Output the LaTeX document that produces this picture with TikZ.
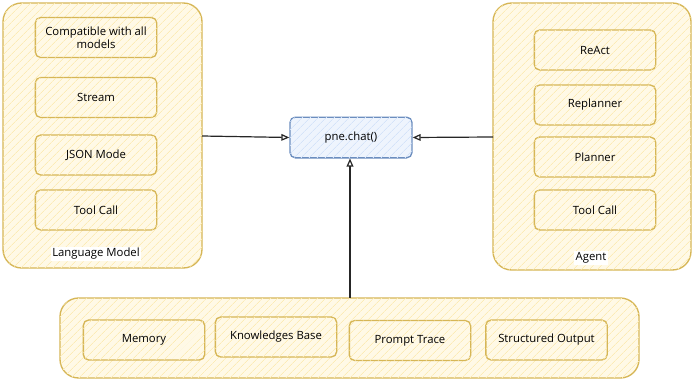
\documentclass[tikz,border=0pt]{standalone}
\usepackage{fontspec}
\setmainfont{Open Sans}
\usetikzlibrary{arrows.meta,patterns.meta}
\definecolor{ystroke}{HTML}{D6B656}
\definecolor{yfill}{HTML}{FFF9E6}
\definecolor{yhatch}{HTML}{FCEBB5}
\definecolor{bstroke}{HTML}{6C8EBF}
\definecolor{bfill}{HTML}{EEF4FD}
\definecolor{bhatch}{HTML}{D4E3F9}
\tikzset{
  container/.style={draw=ystroke, line width=1pt, fill=yfill, rounded corners=14pt,
    postaction={pattern={Lines[angle=45,distance=4pt,line width=0.5pt]}, pattern color=yhatch}},
  item/.style={draw=ystroke, line width=1pt, fill=yfill, rounded corners=4pt,
    minimum width=91pt, minimum height=30pt, font=\fontsize{8.5}{10}\selectfont, align=center, inner sep=1pt,
    postaction={pattern={Lines[angle=45,distance=4pt,line width=0.5pt]}, pattern color=yhatch}},
  chatbox/.style={draw=bstroke, line width=1pt, fill=bfill, rounded corners=4pt,
    minimum width=91.5pt, minimum height=30.5pt, font=\fontsize{8.5}{10}\selectfont,
    postaction={pattern={Lines[angle=45,distance=4pt,line width=0.5pt]}, pattern color=bhatch}},
  lbl/.style={fill=white, inner sep=1pt, font=\fontsize{8.5}{10}\selectfont},
  conn/.style={draw=black!85, line width=0.9pt, -{Triangle[open,length=6pt,width=5pt]}},
}
\begin{document}
\begin{tikzpicture}[x=0.75pt,y=-0.75pt]
\useasboundingbox (0,0) rectangle (694,382);
% containers
\path[container] (3,3) rectangle (202,268);
\coordinate (lmE) at (202,136);
\path[container] (493,3) rectangle (691,270);
\coordinate (agW) at (493,137);
\path[container] (60,298) rectangle (639,378);
\coordinate (bmN) at (350,298);
% left items
\node[item] (compat) at (96,37.5) {Compatible with all\\models};
\node[item] (stream) at (96,97.5) {Stream};
\node[item] (json) at (96,155) {JSON Mode};
\node[item] (tool1) at (96,210) {Tool Call};
\node[lbl] (lm) at (96,254) {Language Model};
% right items
\node[item] (react) at (595,50) {ReAct};
\node[item] (replan) at (595,105) {Replanner};
\node[item] (plan) at (595,157) {Planner};
\node[item] (tool2) at (595,210) {Tool Call};
\node[lbl] (agent) at (591,258) {Agent};
% bottom items
\node[item] (mem) at (144,340) {Memory};
\node[item] (kb) at (276,337) {Knowledges Base};
\node[item] (pt) at (410,340.5) {Prompt Trace};
\node[item] (so) at (546.5,340) {Structured Output};
% center
\node[chatbox] (chat) at (351,137.5) {pne.chat()};
% connectors
\draw[conn] (lmE) -- (chat.west);
\draw[conn] (agW) -- (chat.east);
\draw[conn] (bmN) -- (bmN |- chat.south);
\end{tikzpicture}
\end{document}
